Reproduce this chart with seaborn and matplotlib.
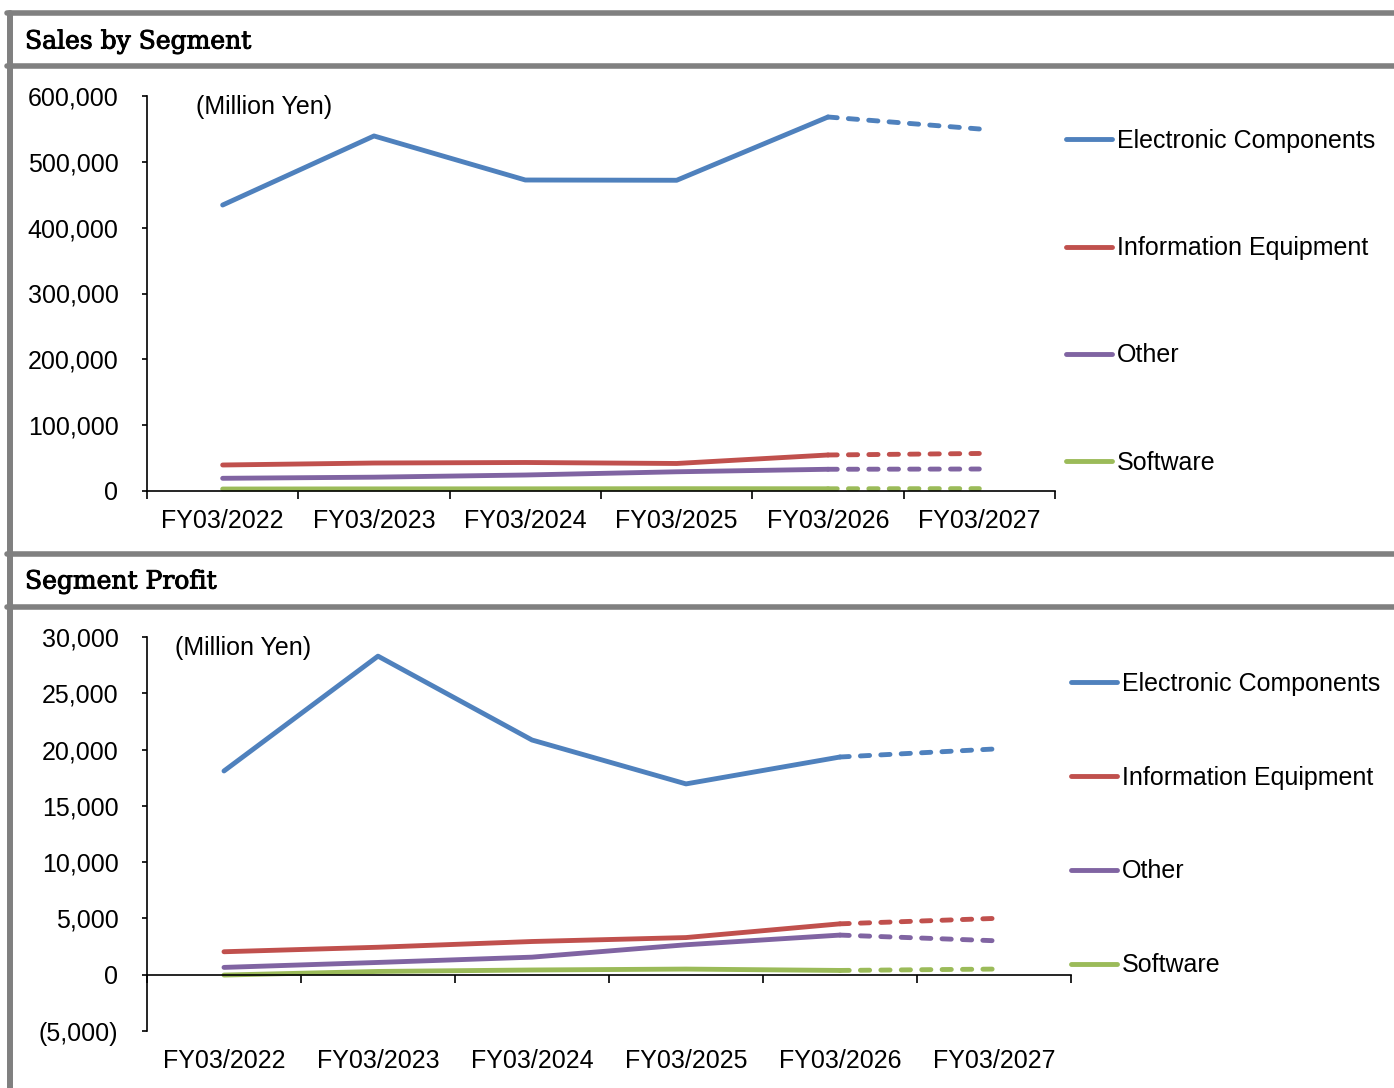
import matplotlib
matplotlib.use("Agg")
import matplotlib.pyplot as plt
import matplotlib.patheffects as pe
from matplotlib.lines import Line2D
from matplotlib.ticker import FuncFormatter, MultipleLocator, FixedLocator
import seaborn as sns
import pandas as pd
import numpy as np

# data
years = ["FY03/2022", "FY03/2023", "FY03/2024", "FY03/2025", "FY03/2026", "FY03/2027"]
segments = ["Electronic Components", "Information Equipment", "Other", "Software"]
colors = ["#4F81BD", "#C0504D", "#8064A2", "#9BBB59"]

sales_electronic = [434400, 539300, 472400, 472000, 568100, 549900]
sales_info = [39500, 42500, 43300, 41800, 54700, 57000]
sales_other = [19300, 21000, 24300, 29200, 33000, 33400]
sales_software = [3000, 3200, 3300, 3500, 3400, 3600]

profit_electronic = [18100, 28300, 20850, 16950, 19340, 20050]
profit_info = [2040, 2440, 2950, 3300, 4520, 5000]
profit_other = [650, 1090, 1560, 2660, 3520, 3020]
profit_software = [-30, 290, 420, 500, 380, 500]

n_actual = 5  # last actual year index + 1, forecast after that

sns.set_theme(style="white")
plt.rcParams["font.family"] = ["Liberation Sans", "DejaVu Sans"]
plt.rcParams["axes.linewidth"] = 1.2
plt.rcParams["axes.edgecolor"] = "black"
plt.rcParams["text.color"] = "black"
plt.rcParams["xtick.color"] = "black"
plt.rcParams["ytick.color"] = "black"


def long_frame(series):
    rows = []
    for seg, vals in zip(segments, series):
        for i, v in enumerate(vals):
            rows.append({"x": i, "value": v, "segment": seg})
    return pd.DataFrame(rows)


def fmt(v, pos):
    if v < 0:
        return "({:,.0f})".format(-v)
    return "{:,.0f}".format(v)


def draw_panel(ax, series, ylim, ystep):
    df = long_frame(series)
    pal = dict(zip(segments, colors))
    actual = df[df["x"] < n_actual]
    fcst = df[df["x"] >= n_actual - 1]
    n0 = len(ax.lines)
    sns.lineplot(data=actual, x="x", y="value", hue="segment", palette=pal,
                 hue_order=segments, lw=3.5, legend=False, ax=ax, sort=False)
    for ln in ax.lines[n0:]:
        ln.set_solid_capstyle("round")
        ln.set_clip_on(False)
    n1 = len(ax.lines)
    sns.lineplot(data=fcst, x="x", y="value", hue="segment", palette=pal,
                 hue_order=segments, lw=3.5, legend=False, ax=ax, sort=False)
    for ln in ax.lines[n1:]:
        ln.set_linestyle((0, (1.9, 2.3)))
        ln.set_dash_capstyle("round")
        ln.set_clip_on(False)

    ax.set_xlim(-0.5, len(years) - 0.5)
    ax.set_ylim(*ylim)
    ax.yaxis.set_major_locator(MultipleLocator(ystep))
    ax.yaxis.set_major_formatter(FuncFormatter(fmt))
    ax.xaxis.set_major_locator(FixedLocator(np.arange(-0.5, len(years), 1.0)))
    ax.set_xticklabels([])
    ax.tick_params(axis="y", direction="out", length=3.6, width=1.2, pad=17,
                   labelsize=18, left=True, colors="black")
    ax.tick_params(axis="x", direction="out", length=5.5, width=1.2, bottom=True)
    ax.spines["top"].set_visible(False)
    ax.spines["right"].set_visible(False)
    ax.spines["bottom"].set_position(("data", 0))
    ax.set_xlabel("")
    ax.set_ylabel("")
    for i, lab in enumerate(years):
        ax.annotate(lab, xy=(i, 0), xycoords=("data", "axes fraction"),
                    xytext=(0, -21.6), textcoords="offset points",
                    ha="center", va="center", fontsize=18)


fig = plt.figure(figsize=(13.94, 10.88), dpi=100)
W, H = 1394.0, 1088.0

ax1 = fig.add_axes([147 / W, 1 - 491 / H, (1055 - 147) / W, (491 - 96) / H])
ax2 = fig.add_axes([147 / W, 1 - 1031 / H, (1071 - 147) / W, (1031 - 637) / H])

draw_panel(ax1, [sales_electronic, sales_info, sales_other, sales_software],
           (0, 600000), 100000)
draw_panel(ax2, [profit_electronic, profit_info, profit_other, profit_software],
           (-5000, 30000), 5000)

ax1.text((196 - 147) / (1055 - 147), 0.972, "(Million Yen)",
         transform=ax1.transAxes, fontsize=18, va="center", ha="left")
ax2.text((175 - 147) / (1071 - 147), 0.972, "(Million Yen)",
         transform=ax2.transAxes, fontsize=18, va="center", ha="left")

handles = [Line2D([0], [0], color=c, lw=3.5, solid_capstyle="round") for c in colors]
fig.legend(handles, segments, loc="upper left", bbox_to_anchor=(1066 / W, 1 - 129 / H),
           frameon=False, fontsize=18, handlelength=1.84, handletextpad=0.2,
           labelspacing=3.33, borderpad=0, borderaxespad=0)
fig.legend(handles, segments, loc="upper left", bbox_to_anchor=(1071 / W, 1 - 672 / H),
           frameon=False, fontsize=18, handlelength=1.84, handletextpad=0.2,
           labelspacing=2.79, borderpad=0, borderaxespad=0)

# panel titles and gray frame
thick = [pe.withStroke(linewidth=0.7, foreground="black")]
fig.text(25 / W, 1 - 42 / H, "Sales by Segment", family="DejaVu Serif",
         fontsize=18, va="center", ha="left", path_effects=thick)
fig.text(25 / W, 1 - 582 / H, "Segment Profit", family="DejaVu Serif",
         fontsize=18, va="center", ha="left", path_effects=thick)
gray = "#808080"
for yy in [12.5, 66, 554, 607]:
    fig.add_artist(Line2D([7 / W, 1], [1 - yy / H, 1 - yy / H], color=gray, lw=4,
                          transform=fig.transFigure))
fig.add_artist(Line2D([10 / W, 10 / W], [1 - 12.5 / H, 0], color=gray, lw=4.3,
                      transform=fig.transFigure))

fig.savefig("out.png", dpi=100)
